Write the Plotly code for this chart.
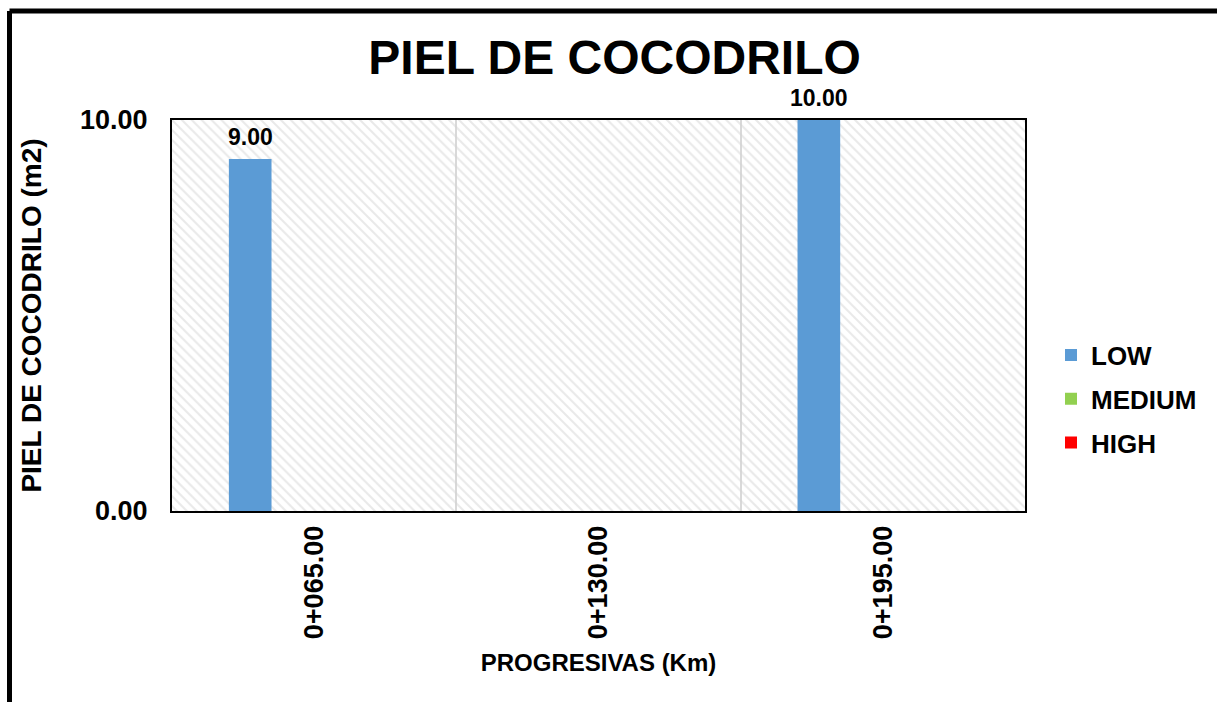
import plotly.graph_objects as go

# data
progresivas = ["0+065.00", "0+130.00", "0+195.00"]
low = [9.0, 0.0, 10.0]
medium = [0.0, 0.0, 0.0]
high = [0.0, 0.0, 0.0]
y_ticks = [0, 10]

series = [("LOW", low, "#5B9BD5"), ("MEDIUM", medium, "#92D050"), ("HIGH", high, "#FF0000")]

FONT = "Liberation Sans, Arial, sans-serif"
W, H = 1217, 702
L, R, T, B = 172, 192, 120, 191


def px_x(p):
    return (p - L) / (W - L - R)


def px_y(p):
    return (H - B - p) / (H - T - B)


fig = go.Figure()

# hatched plot background (drawn on the hidden main x axis)
fig.add_trace(go.Bar(
    x=[0.5], y=[max(y_ticks)], width=1, xaxis="x", yaxis="y",
    marker=dict(color="rgba(0,0,0,0)", line_width=0,
                pattern=dict(shape="\\", fgcolor="#d3d3d3", bgcolor="rgba(0,0,0,0)",
                             size=7, solidity=0.3)),
    showlegend=False, hoverinfo="skip"))

bar_w = 0.15
offsets = [-0.3, -0.15, 0.0]
cat_px = (W - L - R) / len(progresivas)
labels = []
for i, (name, vals, col) in enumerate(series):
    fig.add_trace(go.Bar(
        x=progresivas, y=vals, name=name, xaxis="x2", yaxis="y",
        marker=dict(color=col, line_width=0),
        width=bar_w, offset=offsets[i],
        legendgroup=name))
    # value labels above the non-empty bars
    for cat, v in zip(progresivas, vals):
        if v:
            labels.append(dict(
                x=cat, y=v, xref="x2", yref="y", text="%.2f" % v, showarrow=False,
                xanchor="center", yanchor="bottom", yshift=7,
                xshift=(offsets[i] + bar_w / 2) * cat_px,
                font=dict(family=FONT, size=23, color="black", weight="bold")))

fig.update_layout(
    width=W, height=H,
    margin=dict(l=L, r=R, t=T, b=B),
    paper_bgcolor="white", plot_bgcolor="white",
    title=dict(text="PIEL DE COCODRILO", x=0.505, xanchor="center", y=0.919, yanchor="middle",
               font=dict(family=FONT, size=48, color="black", weight="bold")),
    barmode="overlay",
    annotations=labels,
    xaxis=dict(range=[0, 1], visible=False, fixedrange=True),
    xaxis2=dict(overlaying="x", anchor="y", side="bottom",
                tickangle=-90, tickson="boundaries", ticks="", ticklabelstandoff=2,
                showgrid=True, gridcolor="#d9d9d9", gridwidth=1.5,
                showline=True, linecolor="black", linewidth=2, mirror=True,
                tickfont=dict(family=FONT, size=27, color="black", weight="bold"),
                title=dict(text="PROGRESIVAS (Km)", standoff=16,
                           font=dict(family=FONT, size=24, color="black", weight="bold"))),
    yaxis=dict(range=[0, max(y_ticks)], tickvals=y_ticks, tickformat=".2f",
               showgrid=False, zeroline=False, ticks="", ticklabelstandoff=17,
               showline=True, linecolor="black", linewidth=2, mirror=True,
               tickfont=dict(family=FONT, size=27, color="black", weight="bold"),
               title=dict(text="PIEL DE COCODRILO (m2)", standoff=30,
                          font=dict(family=FONT, size=28, color="black", weight="bold"))),
    legend=dict(x=px_x(1051), y=px_y(399), xanchor="left", yanchor="middle",
                traceorder="grouped", tracegroupgap=7,
                font=dict(family=FONT, size=26, color="black", weight="bold"),
                itemwidth=30, bgcolor="rgba(0,0,0,0)"),
    shapes=[
        dict(type="line", xref="paper", yref="paper", x0=px_x(9.5), x1=px_x(1230),
             y0=px_y(11), y1=px_y(11), line=dict(color="black", width=5)),
        dict(type="line", xref="paper", yref="paper", x0=px_x(9.5), x1=px_x(9.5),
             y0=px_y(11), y1=px_y(720), line=dict(color="black", width=5)),
    ],
)

# drop the default page margin so the figure sits at the window origin
fig.write_html("out.html", config={"displayModeBar": False},
               post_script="document.body.style.margin='0px';")
